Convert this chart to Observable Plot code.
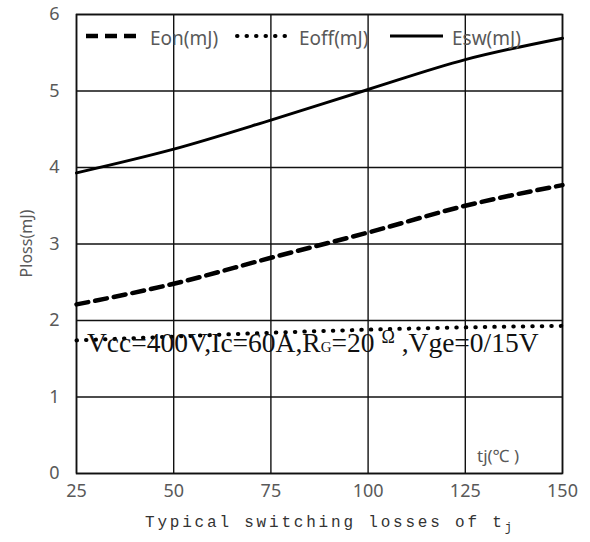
<!DOCTYPE html>
<html>
<head>
<meta charset="utf-8">
<script src="https://cdn.jsdelivr.net/npm/d3@7"></script>
<script src="https://cdn.jsdelivr.net/npm/@observablehq/plot@0.6"></script>
<style>
  html, body { margin: 0; padding: 0; background: #fff; }
</style>
</head>
<body>
<div id="chart"></div>
<script>
const temps = [25, 50, 75, 100, 125, 150];
const eon  = [2.21, 2.48, 2.82, 3.15, 3.50, 3.77];
const eoff = [1.74, 1.79, 1.84, 1.88, 1.91, 1.93];
const esw  = [3.93, 4.24, 4.62, 5.02, 5.41, 5.69];
const yTicks = [0, 1, 2, 3, 4, 5, 6];
const seriesNames = ["Eon(mJ)", "Eoff(mJ)", "Esw(mJ)"];
const yLabel = "Ploss(mJ)";
const xTitle = "Typical switching losses of t";
const annotation = ["Vcc=400V,Ic=60A,R", "G", "=20 ", "Ω", " ,Vge=0/15V"];

const rows = (vals) => temps.map((t, i) => ({t, v: vals[i]}));

const plot = Plot.plot({
  width: 590,
  height: 542,
  marginLeft: 76,
  marginRight: 28,
  marginTop: 14,
  marginBottom: 69,
  style: {fontFamily: "'Noto Sans', 'Open Sans', sans-serif", fontSize: "18px", color: "#595959", background: "#fff"},
  x: {domain: [25, 150], ticks: temps, label: null},
  y: {domain: [0, 6], ticks: yTicks, label: null},
  marks: [
    Plot.gridX(temps, {stroke: "#111", strokeOpacity: 1, strokeWidth: 1.4}),
    Plot.gridY(yTicks, {stroke: "#111", strokeOpacity: 1, strokeWidth: 1.4}),
    Plot.frame({stroke: "#111", strokeWidth: 1.6}),
    Plot.line(rows(eoff), {x: "t", y: "v", curve: "monotone-x", stroke: "#000", strokeWidth: 4, strokeLinecap: "round", strokeDasharray: "0.5,9"}),
    Plot.line(rows(eon), {x: "t", y: "v", curve: "monotone-x", stroke: "#000", strokeWidth: 4.5, strokeDasharray: "12,7"}),
    Plot.line(rows(esw), {x: "t", y: "v", curve: "monotone-x", stroke: "#000", strokeWidth: 3}),
    Plot.axisX(temps, {tickSize: 0, tickPadding: 11, fill: "#595959", fontSize: 18, tickFormat: d => String(d)}),
    Plot.axisY(yTicks, {tickSize: 0, tickPadding: 17, fill: "#595959", fontSize: 18, tickFormat: d => String(d)})
  ]
});

document.getElementById("chart").appendChild(plot);

const svg = d3.select(plot);
const X = plot.scale("x"), Y = plot.scale("y");
const yTop = Y.apply(6), yBot = Y.apply(0);

// Legend
const lg = svg.append("g").attr("font-family", "'Noto Sans', 'Open Sans', sans-serif").attr("font-size", 19)
  .attr("fill", "#595959").attr("text-anchor", "start");
const legY = yTop + 22;
const legendItems = [
  {name: seriesNames[0], lx0: 86, lx1: 142, tx: 150, dash: "12,7", w: 4.5, cap: "butt"},
  {name: seriesNames[1], lx0: 237, lx1: 289, tx: 299, dash: "0.5,9", w: 4, cap: "round"},
  {name: seriesNames[2], lx0: 390, lx1: 443, tx: 452, dash: null, w: 3, cap: "butt"}
];
legendItems.forEach(d => {
  const l = lg.append("line").attr("x1", d.lx0).attr("x2", d.lx1).attr("y1", legY).attr("y2", legY)
    .attr("stroke", "#000").attr("stroke-width", d.w).attr("stroke-linecap", d.cap);
  if (d.dash) l.attr("stroke-dasharray", d.dash);
  lg.append("text").attr("x", d.tx).attr("y", legY + 2).attr("dy", "0.35em").text(d.name);
});

// Y label
svg.append("text")
  .attr("transform", `translate(26,${(yTop + yBot) / 2 + 0}) rotate(-90)`)
  .attr("text-anchor", "middle").attr("dy", "0.35em")
  .attr("font-family", "'Noto Sans', 'Open Sans', sans-serif").attr("font-size", 16).attr("fill", "#595959")
  .text(yLabel);

// X title
const xt = svg.append("text")
  .attr("x", 145).attr("y", 527).attr("text-anchor", "start")
  .attr("font-family", "'Liberation Mono', 'DejaVu Sans Mono', monospace").attr("font-size", 16)
  .attr("letter-spacing", 2.8).attr("fill", "#333");
xt.append("tspan").text(xTitle);
xt.append("tspan").attr("dy", 4).attr("font-size", 12).text("j");

// tj(℃) label
const tj = svg.append("text").attr("x", 477).attr("y", yBot - 11).attr("text-anchor", "start")
  .attr("font-family", "'Noto Sans', 'Open Sans', sans-serif").attr("font-size", 17).attr("fill", "#595959");
tj.append("tspan").text("tj(℃ )");

// Annotation
const an = svg.append("text").attr("x", 87).attr("y", 352).attr("text-anchor", "start")
  .attr("font-family", "'Liberation Serif', 'Times New Roman', serif").attr("font-size", 27.5).attr("fill", "#111");
an.append("tspan").text(annotation[0]);
an.append("tspan").attr("font-size", 15).text(annotation[1]);
an.append("tspan").attr("font-size", 27.5).text(annotation[2]);
an.append("tspan").attr("font-size", 18).attr("dy", -9).text(annotation[3]);
an.append("tspan").attr("font-size", 27.5).attr("dy", 9).text(annotation[4]);
</script>
</body>
</html>
